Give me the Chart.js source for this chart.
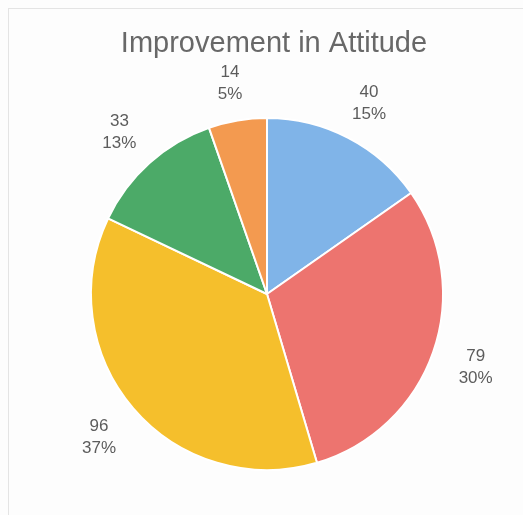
<!DOCTYPE html>
<html>
<head>
<meta charset="utf-8">
<script src="https://cdn.jsdelivr.net/npm/chart.js@4/dist/chart.umd.min.js"></script>
<style>
  html, body { margin: 0; padding: 0; background: #fdfdfd; }
  #wrap { position: relative; width: 523px; height: 515px; }
  #frame { position: absolute; left: 8px; top: 8px; right: -2px; bottom: -2px; border-left: 1px solid #e4e4e4; border-top: 1px solid #e4e4e4; pointer-events: none; }
</style>
</head>
<body>
<div id="wrap">
  <canvas id="c" width="523" height="515"></canvas>
  <div id="frame"></div>
</div>
<script>
const titleText = "Improvement in Attitude";
const categories = ["A", "B", "C", "D", "E"];
const values = [40, 79, 96, 33, 14];
const colors = ["#80b4e8", "#ed746f", "#f5bf2c", "#4caa68", "#f39a50"];

const total = values.reduce((a, b) => a + b, 0);

const titleAndLabels = {
  id: "titleAndLabels",
  afterDatasetsDraw(chart) {
    const ctx = chart.ctx;
    ctx.save();
    // title
    ctx.fillStyle = "#686868";
    ctx.font = "29px 'Liberation Sans', Arial, sans-serif";
    ctx.textAlign = "center";
    ctx.textBaseline = "middle";
    ctx.fillText(titleText, 274, 44);
    // outside labels
    const meta = chart.getDatasetMeta(0);
    ctx.fillStyle = "#5c5c5c";
    ctx.font = "17px 'Liberation Sans', Arial, sans-serif";
    meta.data.forEach((arc, i) => {
      const p = arc.getProps(["x", "y", "startAngle", "endAngle", "outerRadius"], true);
      const mid = (p.startAngle + p.endAngle) / 2;
      const r = p.outerRadius + 45;
      const s = Math.sin(mid);
      const x = p.x + Math.cos(mid) * r;
      const y = p.y + s * r + (s < 0 ? 8 * Math.pow(-s, 4) : 0);
      const pct = Math.round(values[i] / total * 100) + "%";
      ctx.fillText(String(values[i]), x, y - 11);
      ctx.fillText(pct, x, y + 11);
    });
    ctx.restore();
  }
};

new Chart(document.getElementById("c"), {
  type: "pie",
  data: {
    labels: categories,
    datasets: [{
      data: values,
      backgroundColor: colors,
      borderColor: "#ffffff",
      borderWidth: 2
    }]
  },
  options: {
    responsive: false,
    animation: false,
    events: [],
    layout: { padding: { left: 90, right: 79, top: 117, bottom: 44 } },
    plugins: {
      legend: { display: false },
      tooltip: { enabled: false },
      title: { display: false }
    }
  },
  plugins: [titleAndLabels]
});
</script>
</body>
</html>
